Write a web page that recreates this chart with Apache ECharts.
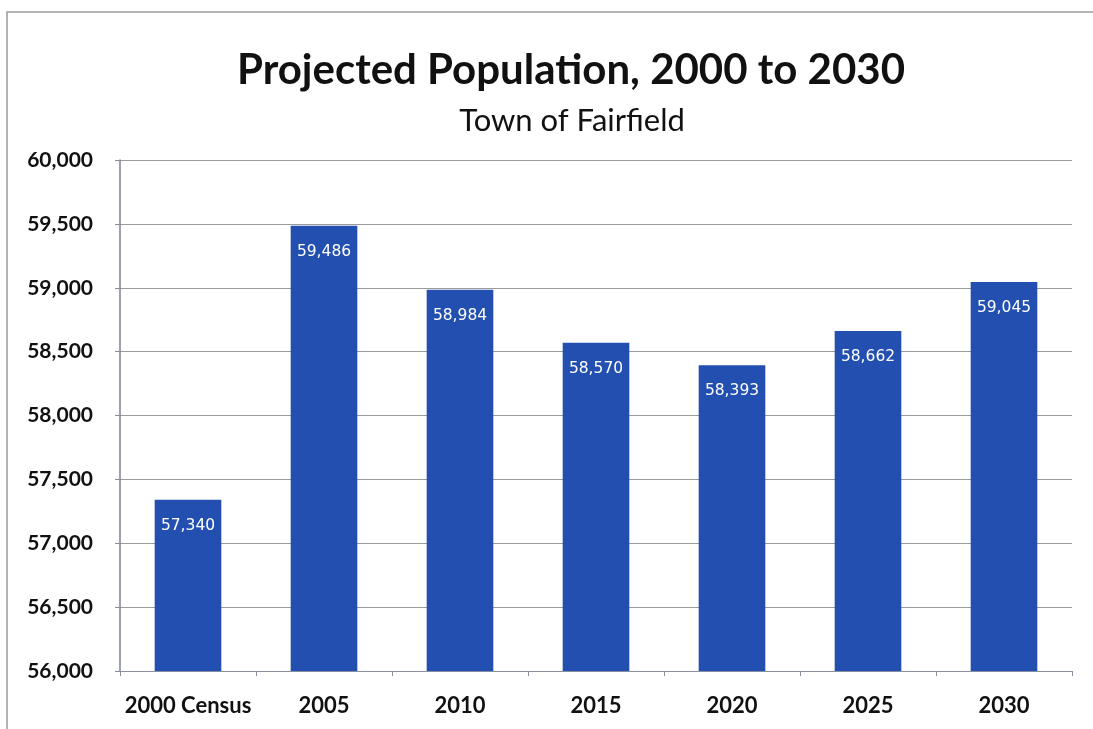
<!DOCTYPE html>
<html>
<head>
<meta charset="utf-8">
<script src="https://cdn.jsdelivr.net/npm/echarts@6/dist/echarts.min.js"></script>
<style>
  html, body { margin: 0; padding: 0; background: #ffffff; }
  #chart { width: 1093px; height: 729px; }
</style>
</head>
<body>
<div id="chart"></div>
<script>
// Projected population figures for the Town of Fairfield
const categories = ['2000 Census', '2005', '2010', '2015', '2020', '2025', '2030'];
const population = [57340, 59486, 58984, 58570, 58393, 58662, 59045];
const yMin = 56000;
const yMax = 60000;
const yStep = 500;

const chart = echarts.init(document.getElementById('chart'));

const fmt = v => v.toLocaleString('en-US');
const font = 'Lato, "Open Sans", sans-serif';

chart.setOption({
  backgroundColor: '#ffffff',
  animation: false,
  title: [
    {
      text: 'Projected Population, 2000 to 2030',
      left: 566,
      textAlign: 'center',
      top: 44,
      textStyle: { fontFamily: font, fontWeight: 'bold', fontSize: 42, color: '#111111' }
    },
    {
      text: 'Town of Fairfield',
      left: 567,
      textAlign: 'center',
      top: 100,
      textStyle: { fontFamily: font, fontWeight: 'normal', fontSize: 31, color: '#111111' }
    }
  ],
  graphic: [
    {
      type: 'polyline',
      shape: { points: [[7, 729], [7, 12], [1093, 12]] },
      style: { stroke: '#9a9a9a', lineWidth: 1.5, fill: null },
      silent: true
    }
  ],
  grid: { left: 120, right: 21, top: 160, bottom: 58 },
  xAxis: {
    type: 'category',
    data: categories,
    axisLine: { show: true, lineStyle: { color: '#8a8fa0', width: 1 } },
    axisTick: { show: true, interval: 0, length: 5, lineStyle: { color: '#8a8fa0' } },
    axisLabel: {
      interval: 0,
      fontFamily: font, fontWeight: 'bold', fontSize: 22, color: '#111111', margin: 24
    }
  },
  yAxis: {
    type: 'value',
    min: yMin,
    max: yMax,
    interval: yStep,
    axisLine: { show: true, lineStyle: { color: '#7d8299', width: 1.5 } },
    axisTick: { show: true, length: 5, lineStyle: { color: '#8a8fa0' } },
    splitLine: { show: true, lineStyle: { color: '#9c9c9c', width: 1 } },
    axisLabel: {
      fontFamily: font, fontWeight: 'bold', fontSize: 21, color: '#111111', margin: 27,
      formatter: v => fmt(v)
    }
  },
  series: [
    {
      type: 'bar',
      data: population,
      barWidth: '49%',
      itemStyle: { color: '#2350b0' },
      label: {
        show: true,
        position: 'insideTop',
        distance: 18,
        color: '#ffffff',
        fontFamily: '"DejaVu Sans", sans-serif',
        fontSize: 15.5,
        formatter: p => fmt(p.value)
      }
    }
  ]
});
</script>
</body>
</html>
